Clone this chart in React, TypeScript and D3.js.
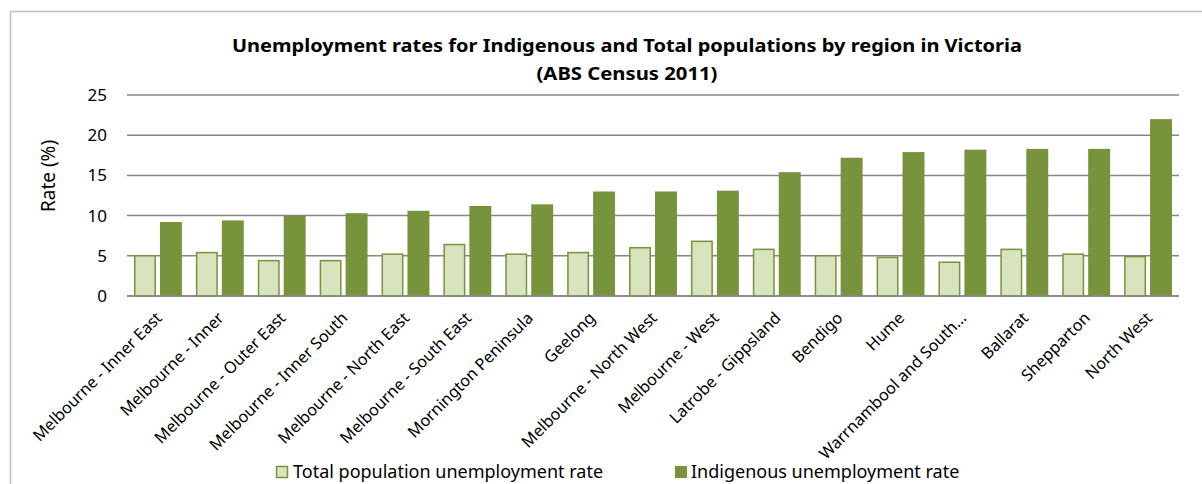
import React from "react";
import * as d3 from "d3";

const categories = [
  "Melbourne - Inner East",
  "Melbourne - Inner",
  "Melbourne - Outer East",
  "Melbourne - Inner South",
  "Melbourne - North East",
  "Melbourne - South East",
  "Mornington Peninsula",
  "Geelong",
  "Melbourne - North West",
  "Melbourne - West",
  "Latrobe - Gippsland",
  "Bendigo",
  "Hume",
  "Warrnambool and South\u2026",
  "Ballarat",
  "Shepparton",
  "North West",
];

const totalRate = [5.0, 5.4, 4.4, 4.4, 5.2, 6.4, 5.2, 5.4, 6.0, 6.8, 5.8, 5.0, 4.8, 4.2, 5.8, 5.2, 4.9];
const indigenousRate = [9.2, 9.4, 10.0, 10.3, 10.6, 11.2, 11.4, 13.0, 13.0, 13.1, 15.4, 17.2, 17.9, 18.2, 18.3, 18.3, 22.0];
const yTicks = [0, 5, 10, 15, 20, 25];
const seriesNames = ["Total population unemployment rate", "Indigenous unemployment rate"];

const W = 1202;
const H = 484;
const FONT = "'Noto Sans', 'Open Sans', sans-serif";
const LIGHT = "#d7e4bd";
const DARK = "#77933c";
const GRID = "#868686";

export default function App() {
  const left = 127;
  const right = 1179;
  const top = 95;
  const bottom = 296;

  const x0 = d3.scaleBand<string>().domain(categories).range([left, right]).padding(0);
  const bw = x0.bandwidth();
  const x1 = d3
    .scaleBand<string>()
    .domain(["total", "ind"])
    .range([bw * 0.113, bw * 0.887])
    .paddingInner(0.154);
  const y = d3.scaleLinear().domain([0, 25]).range([bottom, top]);

  return (
    <svg
      width={W}
      height={H}
      style={{ position: "absolute", left: 0, top: 0, background: "#fff" }}
      fontFamily={FONT}
    >
      <rect x={0} y={0} width={W} height={H} fill="#fff" />
      {/* chart frame */}
      <path d={`M10.5,${H + 2} V11.5 H${W + 2}`} fill="none" stroke="#bfbfbf" strokeWidth={1.5} />

      {/* title */}
      <text x={627} y={52} textAnchor="middle" fontWeight="bold" fontSize={18} fill="#000"
        textLength={790} lengthAdjust="spacingAndGlyphs">
        Unemployment rates for Indigenous and Total populations by region in Victoria
      </text>
      <text x={627} y={80} textAnchor="middle" fontWeight="bold" fontSize={18} fill="#000"
        textLength={181} lengthAdjust="spacingAndGlyphs">
        (ABS Census 2011)
      </text>

      {/* gridlines */}
      {yTicks.map((t) => (
        <line key={t} x1={left} x2={right} y1={y(t)} y2={y(t)} stroke={GRID} strokeWidth={1.5} />
      ))}
      {/* y tick labels */}
      {yTicks.map((t) => (
        <text key={"l" + t} x={107} y={y(t)} dy="0.35em" textAnchor="end" fontSize={17} fill="#000">
          {t}
        </text>
      ))}
      {/* y axis title */}
      <text transform={`translate(55,176) rotate(-90)`} textAnchor="middle" fontSize={19} fill="#000">
        Rate (%)
      </text>

      {/* bars */}
      {categories.map((c, i) => (
        <g key={c} transform={`translate(${x0(c)},0)`}>
          <rect
            x={x1("total")! + 0.75}
            y={y(totalRate[i])}
            width={x1.bandwidth() - 1.5}
            height={y(0) - y(totalRate[i])}
            fill={LIGHT}
            stroke={DARK}
            strokeWidth={1.5}
          />
          <rect
            x={x1("ind")}
            y={y(indigenousRate[i])}
            width={x1.bandwidth()}
            height={y(0) - y(indigenousRate[i])}
            fill={DARK}
          />
        </g>
      ))}
      {/* baseline */}
      <line x1={left} x2={right} y1={y(0)} y2={y(0)} stroke={GRID} strokeWidth={1.5} />

      {/* x labels */}
      {categories.map((c) => (
        <text
          key={"x" + c}
          transform={`translate(${x0(c)! + bw / 2 + 5},${319}) rotate(-45)`}
          textAnchor="end"
          fontSize={16.2}
          fill="#000"
        >
          {c}
        </text>
      ))}

      {/* legend */}
      <rect x={276.5} y={466.5} width={11} height={11} fill={LIGHT} stroke={DARK} strokeWidth={1.5} />
      <text x={293} y={478} fontSize={18} fill="#000">{seriesNames[0]}</text>
      <rect x={675} y={466} width={12} height={12} fill={DARK} />
      <text x={691} y={478} fontSize={18} fill="#000">{seriesNames[1]}</text>
    </svg>
  );
}
